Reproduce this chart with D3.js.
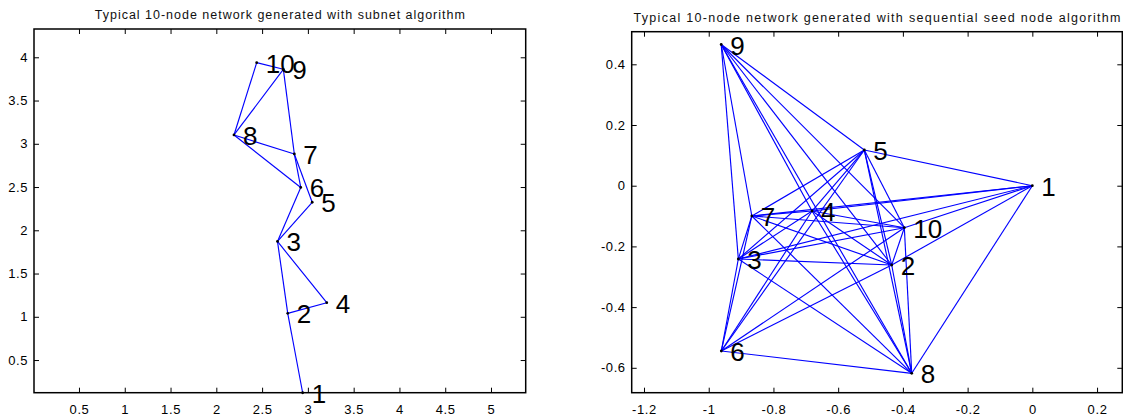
<!DOCTYPE html>
<html>
<head>
<meta charset="utf-8">
<script src="https://cdn.jsdelivr.net/npm/d3@7"></script>
<style>
  html, body { margin: 0; padding: 0; background: #fff; }
  svg { display: block; }
</style>
</head>
<body>
<svg id="chart" width="1123" height="417"></svg>
<script>
// ---- Subnet algorithm network (nodes 1..10) ----
const subnetX = [2.943, 2.780, 2.668, 3.206, 3.047, 2.922, 2.852, 2.193, 2.732, 2.441];
const subnetY = [0.122, 1.040, 1.871, 1.163, 2.324, 2.495, 2.882, 3.102, 3.861, 3.938];
const subnetEdges = [
  [1, 2], [2, 3], [2, 4], [3, 4], [3, 5], [3, 6], [5, 7], [6, 7],
  [6, 8], [7, 8], [7, 9], [8, 9], [8, 10], [9, 10]
];
const subnetXTicks = [0.5, 1, 1.5, 2, 2.5, 3, 3.5, 4, 4.5, 5];
const subnetYTicks = [0.5, 1, 1.5, 2, 2.5, 3, 3.5, 4];

// ---- Sequential seed node network (nodes 1..10) ----
const seedX = [0, -0.4345, -0.9085, -0.6808, -0.5192, -0.9611, -0.8668, -0.3727, -0.9614, -0.3955];
const seedY = [0, -0.2613, -0.2415, -0.0834, 0.1176, -0.5446, -0.0998, -0.6181, 0.4652, -0.1384];
const seedEdges = [
  [1, 2], [1, 3], [1, 4], [1, 5], [1, 7], [1, 8], [1, 10],
  [2, 3], [2, 4], [2, 5], [2, 6], [2, 7], [2, 8], [2, 9], [2, 10],
  [3, 4], [3, 5], [3, 6], [3, 7], [3, 8], [3, 9], [3, 10],
  [4, 5], [4, 6], [4, 7], [4, 8], [4, 9], [4, 10],
  [5, 6], [5, 7], [5, 8], [5, 9], [5, 10],
  [6, 7], [6, 8], [6, 10],
  [7, 8], [7, 9], [7, 10],
  [8, 9], [8, 10],
  [9, 10]
];
const seedXTicks = [-1.2, -1, -0.8, -0.6, -0.4, -0.2, 0, 0.2];
const seedYTicks = [-0.6, -0.4, -0.2, 0, 0.2, 0.4];

const titles = [
  "Typical 10-node network generated with subnet algorithm",
  "Typical 10-node network generated with sequential seed node algorithm"
];

const svg = d3.select("#chart");
const fmt = v => String(+v.toFixed(4)).replace("\u2212", "-");

function drawPanel(cfg) {
  const { left, right, top, bottom, xDomain, yDomain, xs, ys, edges,
          xTicks, yTicks, title, titleY, titleLen } = cfg;
  const x = d3.scaleLinear().domain(xDomain).range([left, right]);
  const y = d3.scaleLinear().domain(yDomain).range([bottom, top]);
  const g = svg.append("g");
  const tickLen = 5;
  const tickFont = "13px 'Liberation Sans', Arial, sans-serif";

  // axes (ticks point inward, mirrored on top/right)
  const axB = d3.axisBottom(x).tickValues(xTicks).tickSize(tickLen).tickFormat(fmt);
  const axT = d3.axisTop(x).tickValues(xTicks).tickSize(tickLen).tickFormat("");
  const axL = d3.axisLeft(y).tickValues(yTicks).tickSize(tickLen).tickFormat(fmt);
  const axR = d3.axisRight(y).tickValues(yTicks).tickSize(tickLen).tickFormat("");

  const gb = g.append("g").attr("transform", `translate(0,${bottom})`).call(axB);
  gb.selectAll(".tick line").attr("y2", -tickLen);
  gb.selectAll(".tick text").attr("y", 12).attr("dy", "0.71em");
  const gt = g.append("g").attr("transform", `translate(0,${top})`).call(axT);
  gt.selectAll(".tick line").attr("y2", tickLen);
  const gl = g.append("g").attr("transform", `translate(${left},0)`).call(axL);
  gl.selectAll(".tick line").attr("x2", tickLen);
  gl.selectAll(".tick text").attr("x", -6);
  const gr = g.append("g").attr("transform", `translate(${right},0)`).call(axR);
  gr.selectAll(".tick line").attr("x2", -tickLen);

  g.selectAll(".domain").remove();
  g.selectAll(".tick line").attr("stroke", "#000").attr("stroke-width", 1);
  g.selectAll(".tick text")
    .style("font", tickFont).attr("fill", "#000").style("letter-spacing", "0.6px");

  // frame
  g.append("rect")
    .attr("x", left).attr("y", top)
    .attr("width", right - left).attr("height", bottom - top)
    .attr("fill", "none").attr("stroke", "#000").attr("stroke-width", 1.5);

  // edges
  g.append("g").selectAll("line").data(edges).join("line")
    .attr("x1", d => x(xs[d[0] - 1])).attr("y1", d => y(ys[d[0] - 1]))
    .attr("x2", d => x(xs[d[1] - 1])).attr("y2", d => y(ys[d[1] - 1]))
    .attr("stroke", "#0000ff").attr("stroke-width", 1.15);

  // node markers
  g.append("g").selectAll("circle").data(xs).join("circle")
    .attr("cx", (d, i) => x(d)).attr("cy", (d, i) => y(ys[i]))
    .attr("r", 1.4).attr("fill", "#000");

  // node numbers
  g.append("g").selectAll("text").data(xs).join("text")
    .attr("x", (d, i) => x(d) + 9).attr("y", (d, i) => y(ys[i]) + 10)
    .style("font", "26px 'Liberation Sans', Arial, sans-serif")
    .attr("fill", "#000")
    .text((d, i) => i + 1);

  // title
  g.append("text")
    .attr("x", (left + right) / 2).attr("y", titleY)
    .attr("text-anchor", "middle")
    .attr("textLength", titleLen).attr("lengthAdjust", "spacing")
    .style("font", "12.5px 'Liberation Sans', Arial, sans-serif")
    .attr("fill", "#111")
    .text(title);
}

drawPanel({
  left: 34, right: 525.7, top: 29, bottom: 392.7,
  xDomain: [0.0087, 5.379], yDomain: [0.1225, 4.327],
  xs: subnetX, ys: subnetY, edges: subnetEdges,
  xTicks: subnetXTicks, yTicks: subnetYTicks,
  title: titles[0], titleY: 19, titleLen: 370
});

drawPanel({
  left: 631.7, right: 1122.3, top: 31.7, bottom: 392.7,
  xDomain: [-1.238, 0.278], yDomain: [-0.682, 0.5074],
  xs: seedX, ys: seedY, edges: seedEdges,
  xTicks: seedXTicks, yTicks: seedYTicks,
  title: titles[1], titleY: 21.5, titleLen: 487
});
</script>
</body>
</html>
